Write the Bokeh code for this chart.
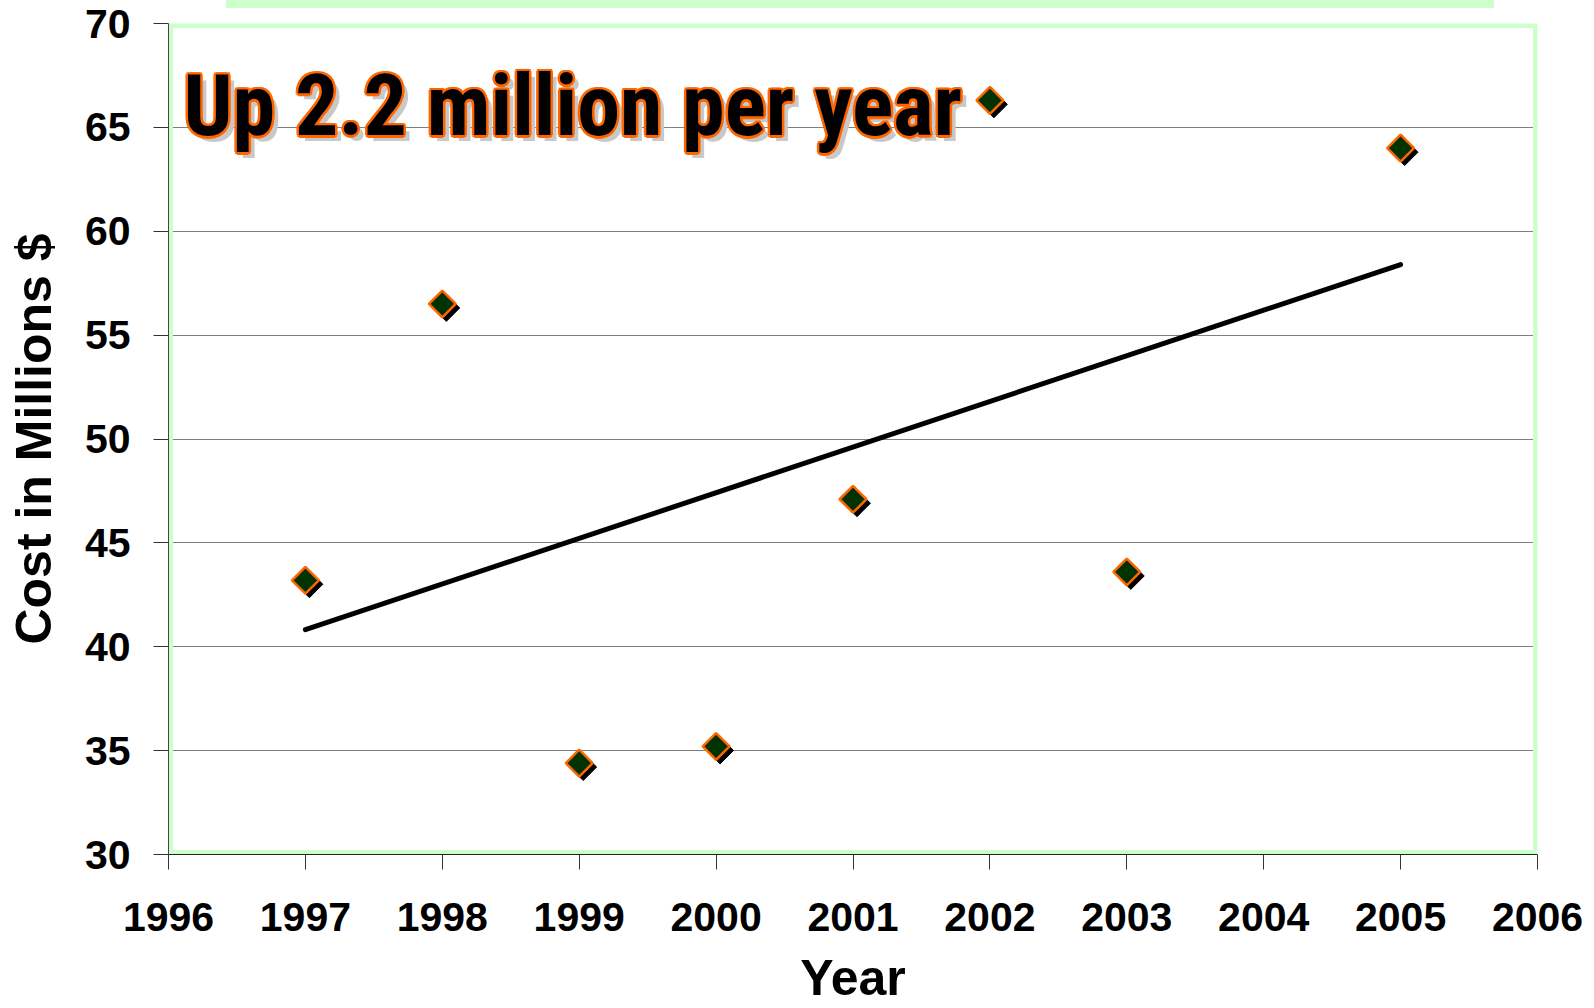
import numpy as np
from bokeh.plotting import figure
from bokeh.layouts import column
from bokeh.models import Range1d, FixedTicker, BoxAnnotation, ColumnDataSource, Div
from bokeh.transform import dodge
from bokeh.core.properties import value
from bokeh.embed import file_html
from bokeh.resources import INLINE

# ---- data ----
years = [1997, 1998, 1999, 2000, 2001, 2002, 2003, 2005]
cost = [43.2, 56.5, 34.4, 35.2, 47.1, 66.3, 43.6, 64.0]
x_ticks = list(range(1996, 2007))
y_ticks = list(range(30, 71, 5))
title_text = "Up 2.2 million per year"
x_label = "Year"
y_label = "Cost in Millions $"

# linear trend line (least squares through the points)
slope, intercept = np.polyfit(years, cost, 1)
trend_x = [min(years), max(years)]
trend_y = [slope * x + intercept for x in trend_x]

# ---- layout ----
W, H = 1594, 1008
BAR_H = 8
ML, MR, MT, MB = 168, 57, 23, 154
frame_w = W - ML - MR
frame_h = H - MT - MB
y0, y1 = y_ticks[0], y_ticks[-1]
ppu_y = frame_h / (y1 - y0)
ppu_x = frame_w / (x_ticks[-1] - x_ticks[0])

p = figure(width=W, height=H, output_backend="svg", toolbar_location=None,
           x_range=Range1d(x_ticks[0], x_ticks[-1]), y_range=Range1d(y0, y1),
           min_border_left=ML, min_border_right=MR, min_border_top=MT,
           min_border_bottom=MB)
p.outline_line_color = None
p.background_fill_color = "white"
p.border_fill_color = None   # transparent, so the page bar behind shows

FONT = "Liberation Sans"
for ax in (p.xaxis[0], p.yaxis[0]):
    ax.major_label_text_font = FONT
    ax.major_label_text_font_style = "bold"
    ax.major_label_text_font_size = "41px"
    ax.major_label_text_color = "black"
    ax.axis_label_text_font = FONT
    ax.axis_label_text_font_style = "bold"
    ax.axis_label_text_font_size = "50px"
    ax.axis_label_text_color = "black"
    ax.major_tick_out = 15
    ax.major_tick_in = 0
    ax.minor_tick_out = 0
    ax.minor_tick_in = 0
    ax.major_tick_line_color = "#333333"
    ax.axis_line_width = 1

p.xaxis.ticker = FixedTicker(ticks=x_ticks)
p.yaxis.ticker = FixedTicker(ticks=y_ticks)
p.xaxis.axis_label = x_label
p.yaxis.axis_label = y_label
p.xaxis.major_label_standoff = 33
p.yaxis.major_label_standoff = 23
p.xaxis.axis_label_standoff = 16
p.yaxis.axis_label_standoff = 20
p.xaxis.axis_line_color = "#222222"
p.yaxis.axis_line_color = "#444444"

p.xgrid.visible = False
p.ygrid.ticker = FixedTicker(ticks=y_ticks)
p.ygrid.grid_line_color = "#808080"
p.ygrid.grid_line_width = 1

# green plot-area border
border = BoxAnnotation(left=x_ticks[0], right=x_ticks[-1], bottom=y0, top=y1,
                       fill_color=None, line_color="#CCFFCC", line_alpha=1.0,
                       line_width=9, level="underlay")
p.add_layout(border)

src = ColumnDataSource(dict(year=years, cost=cost))

# trend line
p.line(trend_x, trend_y, line_width=5, line_color="black", line_cap="round")

# marker shadow and markers
p.scatter(x=dodge("year", 4 / ppu_x, range=p.x_range),
          y=dodge("cost", -4 / ppu_y, range=p.y_range),
          source=src, marker="square", angle=np.pi / 4, size=19,
          fill_color="black", line_color="black")
p.scatter(x="year", y="cost", source=src, marker="square", angle=np.pi / 4,
          size=19, fill_color="#003300", line_color="#FF6600", line_width=2.5)

# headline text: grey shadow, orange outline, black face
TFONT = "Roboto Condensed, Roboto, Liberation Sans, sans-serif"
TSIZE = "86px"
tx = x_ticks[0] + 15 / ppu_x
ty = y1 - (105 - MT) / ppu_y
p.text(x=[tx], y=[ty], text=[title_text], text_font=value(TFONT),
       text_font_style="bold", text_font_size=TSIZE, text_color="#C8C8C8",
       x_offset=6, y_offset=6, text_baseline="alphabetic", text_align="left")
r = 2.5
offs = [(r, 0), (-r, 0), (0, r), (0, -r), (r * .7, r * .7), (-r * .7, r * .7),
        (r * .7, -r * .7), (-r * .7, -r * .7)]
outline_src = ColumnDataSource(dict(x=[tx] * len(offs), y=[ty] * len(offs),
                                    t=[title_text] * len(offs),
                                    dx=[o[0] for o in offs], dy=[o[1] for o in offs]))
p.text(x="x", y="y", text="t", x_offset="dx", y_offset="dy", source=outline_src,
       text_font=value(TFONT), text_font_style="bold", text_font_size=TSIZE,
       text_color="#FF6600", text_baseline="alphabetic", text_align="left")
p.text(x=[tx], y=[ty], text=[title_text], text_font=value(TFONT),
       text_font_style="bold", text_font_size=TSIZE, text_color="black",
       text_baseline="alphabetic", text_align="left")

# decorative light-green bar at the top of the page, lying behind the
# (transparent) figure border
bar = Div(text="", width=1268, height=BAR_H, margin=(0, 0, -BAR_H, 226),
          styles={"background-color": "#CCFFCC"})

layout = column(bar, p, spacing=0)
open("out.html", "w").write(file_html(layout, INLINE))
